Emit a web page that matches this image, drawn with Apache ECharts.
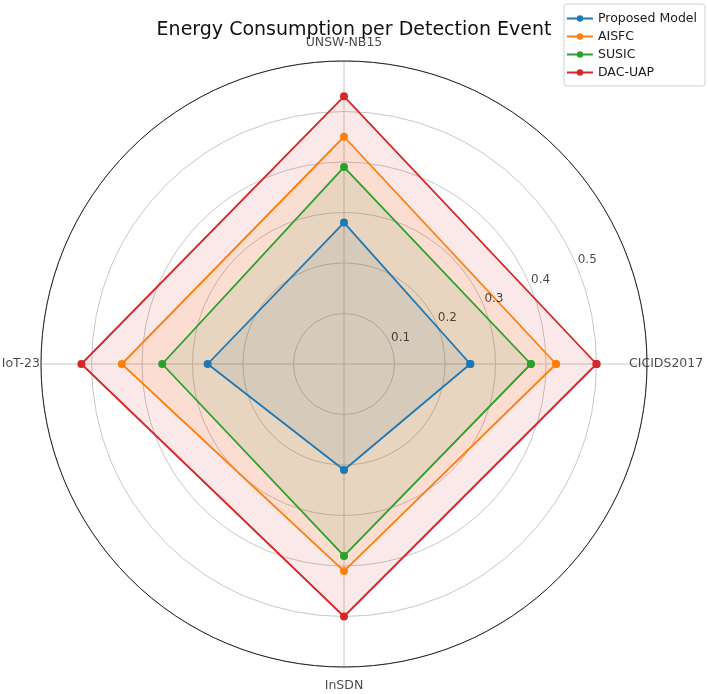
<!DOCTYPE html>
<html>
<head>
<meta charset="utf-8">
<script src="https://cdn.jsdelivr.net/npm/echarts@6/dist/echarts.min.js"></script>
<style>
  html, body { margin: 0; padding: 0; background: #fff; }
  #chart { width: 708px; height: 694px; }
</style>
</head>
<body>
<div id="chart"></div>
<script>
// datasets, counter-clockwise from the right (matplotlib order)
const datasets = ['CICIDS2017', 'UNSW-NB15', 'IoT-23', 'InSDN'];
const angles = [0, 90, 180, 270];
const seriesNames = ['Proposed Model', 'AISFC', 'SUSIC', 'DAC-UAP'];
const proposedModel = [0.25, 0.28, 0.27, 0.21];
const aisfc = [0.42, 0.45, 0.44, 0.41];
const susic = [0.37, 0.39, 0.36, 0.38];
const dacUap = [0.50, 0.53, 0.52, 0.50];
const tickValues = [0.1, 0.2, 0.3, 0.4, 0.5];
const colors = ['#1f77b4', '#ff7f0e', '#2ca02c', '#d62728'];
const FONT = 'DejaVu Sans';

// close the loop by repeating the first point at 360
function toPolar(vals) {
  const pts = vals.map((v, i) => [v, angles[i]]);
  pts.push([vals[0], 360]);
  return pts;
}

const allValues = [proposedModel, aisfc, susic, dacUap];

// lines + markers on top
const series = allValues.map((vals, i) => ({
  name: seriesNames[i],
  type: 'line',
  coordinateSystem: 'polar',
  data: toPolar(vals),
  symbol: 'circle',
  symbolSize: 8,
  color: colors[i],
  lineStyle: { width: 1.8, color: colors[i] },
  itemStyle: { color: colors[i] },
  z: 5,
  animation: false
}));

// translucent fills underneath
allValues.forEach((vals, i) => {
  series.push({
    name: seriesNames[i] + ' fill',
    type: 'line',
    coordinateSystem: 'polar',
    data: toPolar(vals),
    symbol: 'none',
    silent: true,
    lineStyle: { width: 0 },
    areaStyle: { color: colors[i], opacity: 0.1 },
    z: 2,
    animation: false
  });
});

// category labels around the outer circle
const labelCfg = [
  { align: 'left', offset: [-18, 0] },
  { align: 'center', offset: [0, -18] },
  { align: 'right', offset: [-1, 0] },
  { align: 'center', offset: [0, 19] }
];
series.push({
  type: 'scatter',
  coordinateSystem: 'polar',
  symbolSize: 0,
  silent: true,
  animation: false,
  data: datasets.map((d, i) => ({
    value: [0.6, angles[i]],
    name: d,
    label: {
      show: true,
      position: 'inside',
      formatter: d,
      align: labelCfg[i].align,
      verticalAlign: 'middle',
      offset: labelCfg[i].offset,
      fontFamily: FONT,
      fontSize: 12.5,
      color: '#1a1a1a'
    }
  })),
  z: 10
});

// radial tick labels at 22.5 degrees
series.push({
  type: 'scatter',
  coordinateSystem: 'polar',
  symbolSize: 0,
  silent: true,
  animation: false,
  data: tickValues.map(v => [v, 22.5]),
  label: {
    show: true,
    position: 'inside',
    formatter: p => p.value[0].toFixed(1),
    offset: [10, -7],
    fontFamily: FONT,
    fontSize: 12,
    color: '#1a1a1a'
  },
  z: 10
});

const chart = echarts.init(document.getElementById('chart'));
chart.setOption({
  backgroundColor: '#fff',
  animation: false,
  title: {
    text: 'Energy Consumption per Detection Event',
    left: 'center',
    top: 16,
    textStyle: { fontFamily: FONT, fontSize: 19, fontWeight: 'normal', color: '#111' }
  },
  legend: {
    data: seriesNames,
    orient: 'vertical',
    right: 3,
    top: 4,
    itemWidth: 26,
    itemHeight: 8,
    itemGap: 5,
    padding: [8, 8, 7, 2],
    borderColor: '#d0d0d0',
    borderWidth: 1,
    borderRadius: 3,
    textStyle: { fontFamily: FONT, fontSize: 12.5, color: '#1a1a1a' }
  },
  polar: { center: [344, 364], radius: 303 },
  angleAxis: {
    type: 'value',
    min: 0,
    max: 360,
    interval: 90,
    startAngle: 0,
    clockwise: false,
    axisLine: { show: true, lineStyle: { color: '#222', width: 1 } },
    axisTick: { show: false },
    axisLabel: { show: false },
    splitLine: { show: true, lineStyle: { color: '#c8c8c8', width: 1 } }
  },
  radiusAxis: {
    type: 'value',
    min: 0,
    max: 0.6,
    interval: 0.1,
    axisLine: { show: false },
    axisTick: { show: false },
    axisLabel: { show: false },
    splitLine: { show: true, lineStyle: { color: '#c8c8c8', width: 1 } }
  },
  series: series
});
</script>
</body>
</html>
